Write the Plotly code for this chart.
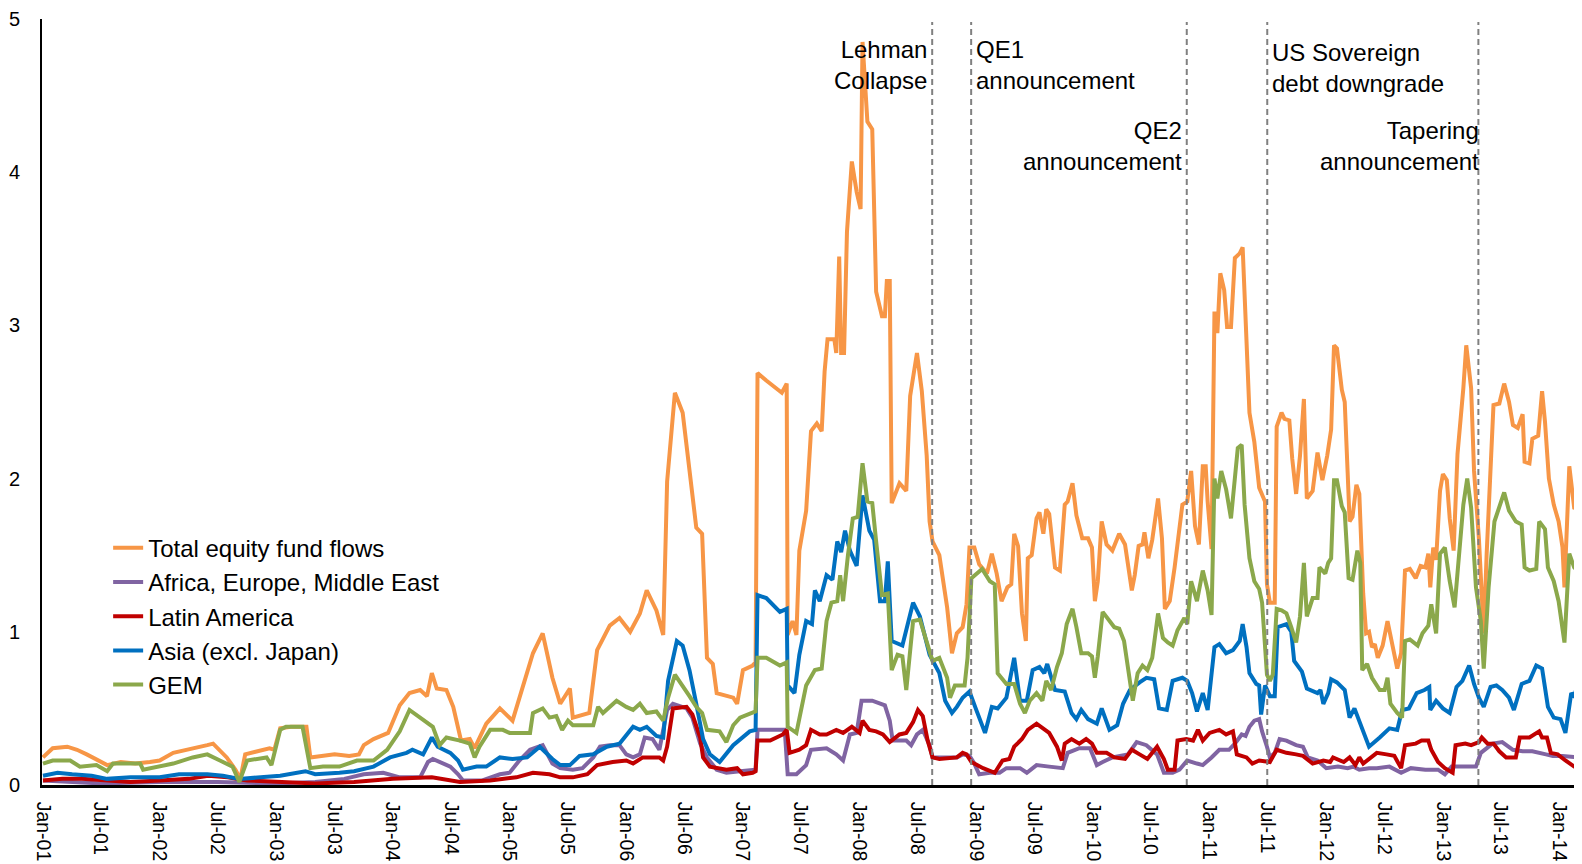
import pandas as pd
import plotly.graph_objects as go

# x positions are months since Jan 2001
total_m = [0, 1, 2.5, 3.5, 4.5, 5.5, 6.6, 8, 9.5, 11, 12, 13.4, 15, 16.9, 17.5, 18.9, 19.8, 20.3, 20.8, 22, 23.3, 23.8,
           24.4, 25.5, 27.1, 27.5, 28.5, 30, 31.5, 32.5, 33, 34, 35.5, 36.7, 37.7, 38.8, 39.5, 40, 40.5, 41.5, 42.2, 43,
           43.9, 44.4, 45.6, 47, 48.3, 49, 50.4, 51.4, 52.4, 53.2, 54.2, 54.5, 56.2, 57, 58.3, 59.3, 60.4, 61.4, 62.1,
           63.1, 63.8, 64.2, 65, 65.8, 66.7, 67.2, 67.8, 68.3, 68.9, 69.3, 71, 71.4, 72, 73, 73.3, 73.5, 74.4, 76, 76.5,
           76.6, 77.1, 77.5, 77.8, 78.5, 79, 79.6, 80.1, 80.4, 80.7, 81.4, 81.6, 81.9, 82.1, 82.4, 82.7, 83.2, 83.7,
           84.1, 84.3, 84.8, 85.3, 85.7, 86.3, 86.6, 86.8, 87.1, 87.3, 87.8, 88.1, 88.8, 89.2, 89.9, 90.4, 90.9, 91.2,
           91.5, 92.2, 93, 93.5, 94, 94.6, 95, 95.3, 95.8, 96.3, 97.1, 97.6, 98.1, 98.6, 99.2, 99.6, 99.9, 100.3, 100.7,
           101.1, 101.3, 101.7, 102.2, 102.5, 102.9, 103.2, 103.5, 104.1, 104.6, 105.1, 105.4, 105.9, 106.3, 106.9,
           107.5, 107.9, 108.2, 108.5, 108.9, 109.4, 110, 110.7, 111.3, 111.6, 112, 112.3, 112.7, 113.1, 113.3, 113.7,
           114.1, 114.7, 115.1, 115.4, 115.9, 116.4, 116.9, 117.2, 117.7, 118.1, 118.5, 118.9, 119.3, 119.6, 119.8,
           120.2, 120.5, 120.8, 121.1, 121.5, 121.8, 122.2, 122.6, 123.1, 123.4, 123.8, 124.1, 124.6, 125.1, 125.7,
           125.9, 126.2, 126.7, 126.9, 127.4, 127.7, 128.2, 128.5, 128.9, 129.3, 129.7, 130, 130.6, 131.1, 131.6, 132.1,
           132.5, 132.8, 133.1, 133.6, 133.9, 134.2, 134.4, 134.7, 135.1, 135.4, 135.8, 136.1, 136.4, 136.7, 137, 137.3,
           137.8, 138.3, 138.6, 139, 139.3, 139.7, 140.1, 140.6, 141.2, 141.7, 142.2, 142.5, 142.7, 143, 143.3, 143.7,
           144, 144.4, 144.7, 145.1, 145.5, 146.1, 146.4, 146.9, 147.2, 147.7, 148.2, 148.5, 148.9, 149.2, 149.8, 150.3,
           150.8, 151.2, 151.7, 152.2, 152.4, 152.9, 153.2, 153.8, 154.2, 154.5, 154.9, 155.4, 155.9, 156.3, 156.5, 157,
           157.5, 158]
total_v = [0.18, 0.24, 0.25, 0.23, 0.2, 0.17, 0.13, 0.15, 0.14, 0.15, 0.16, 0.21, 0.23, 0.26, 0.27, 0.18, 0.1, 0.04,
           0.2, 0.22, 0.24, 0.23, 0.37, 0.38, 0.38, 0.18, 0.19, 0.2, 0.19, 0.2, 0.26, 0.3, 0.34, 0.52, 0.6, 0.62, 0.58,
           0.73, 0.63, 0.62, 0.51, 0.29, 0.3, 0.24, 0.4, 0.5, 0.42, 0.57, 0.86, 0.99, 0.7, 0.53, 0.63, 0.44, 0.47, 0.88,
           1.04, 1.09, 1.0, 1.12, 1.27, 1.14, 0.98, 1.98, 2.56, 2.43, 1.96, 1.68, 1.64, 0.83, 0.79, 0.6, 0.57, 0.53,
           0.75, 0.78, 0.8, 2.69, 2.64, 2.56, 2.62, 0.98, 1.07, 0.98, 1.53, 1.79, 2.31, 2.36, 2.31, 2.7, 2.91, 2.91,
           2.82, 3.45, 2.82, 2.82, 3.61, 4.07, 3.87, 3.76, 4.85, 4.33, 4.28, 3.22, 3.06, 3.06, 3.29, 3.29, 1.84, 1.92,
           1.97, 1.92, 2.54, 2.82, 2.57, 2.15, 1.72, 1.59, 1.5, 1.16, 0.86, 0.99, 1.03, 1.18, 1.55, 1.55, 1.44, 1.38,
           1.51, 1.38, 1.2, 1.29, 1.31, 1.64, 1.56, 1.12, 0.94, 1.48, 1.5, 1.74, 1.78, 1.64, 1.8, 1.77, 1.42, 1.4, 1.83,
           1.85, 1.97, 1.76, 1.61, 1.61, 1.55, 1.2, 1.33, 1.72, 1.57, 1.53, 1.64, 1.57, 1.42, 1.27, 1.37, 1.56, 1.57,
           1.65, 1.48, 1.6, 1.87, 1.61, 1.15, 1.2, 1.42, 1.68, 1.83, 1.85, 2.05, 1.69, 1.57, 2.08, 2.08, 1.85, 1.54,
           3.09, 2.95, 3.34, 3.23, 2.99, 2.99, 3.44, 3.47, 3.51, 2.97, 2.43, 2.24, 1.94, 1.85, 1.31, 1.19, 1.19, 2.34,
           2.43, 2.39, 2.38, 2.13, 1.9, 2.15, 2.52, 1.87, 1.92, 2.17, 1.99, 2.15, 2.32, 2.87, 2.85, 2.58, 2.5, 2.04,
           1.72, 1.75, 1.96, 1.9, 1.25, 0.99, 1.0, 0.9, 0.92, 0.83, 0.91, 1.07, 0.98, 0.86, 0.76, 0.86, 1.4, 1.41, 1.35,
           1.43, 1.42, 1.51, 1.29, 1.55, 1.47, 1.92, 2.03, 1.99, 1.74, 1.53, 2.16, 2.59, 2.87, 2.59, 2.05, 1.61, 0.99,
           1.51, 2.13, 2.48, 2.49, 2.62, 2.5, 2.35, 2.33, 2.42, 2.11, 2.1, 2.26, 2.28, 2.57, 2.37, 2.0, 1.83, 1.72, 1.55,
           1.29, 2.08, 1.81, 1.8]

aeme_m = [0, 3, 6, 12, 18, 24, 28, 31, 33, 35, 36.7, 38.8, 39.6, 40.1, 41.9, 42.7, 43.2, 45.2, 47, 48, 49, 50.1, 51.4,
          52.4, 53.2, 54.5, 55.5, 56.6, 57.3, 58.3, 59.3, 60, 60.7, 61.4, 61.9, 62.7, 63.4, 64.2, 64.8, 66.2, 66.8,
          67.6, 68.3, 69.3, 70.3, 71.7, 73.3, 73.5, 75.1, 76.3, 76.6, 77.5, 78.5, 79, 80.6, 81.6, 82.3, 83, 83.7, 84.2,
          85.3, 86, 86.6, 87.1, 87.4, 88.8, 89.3, 89.9, 90.5, 91.2, 91.5, 92.6, 94, 94.6, 95.3, 95.8, 96.3, 97.4, 98.4,
          99.1, 100.5, 101.2, 102.2, 103.5, 104.9, 105.4, 106.6, 107.7, 108.4, 109, 110, 111.6, 112.5, 113.5, 114.6,
          115.3, 116.2, 116.9, 117.7, 118.7, 119.3, 120.2, 121, 122, 122.6, 123.3, 123.7, 124.1, 124.6, 125.1, 125.4,
          125.9, 126.2, 126.7, 127.2, 127.9, 128.9, 129.6, 130.1, 131.1, 132, 133.2, 134.2, 134.8, 135.4, 136.4, 137.2,
          138.5, 139.7, 140.7, 142.2, 143.5, 144.2, 144.9, 146.3, 147.4, 147.9, 149.1, 150.1, 151.2, 152.2, 153.2,
          154.6, 155.3, 156.3, 158]
aeme_v = [0.03, 0.02, 0.01, 0.02, 0.02, 0.01, 0.02, 0.04, 0.07, 0.08, 0.05, 0.05, 0.15, 0.17, 0.12, 0.07, 0.03, 0.03,
          0.07, 0.08, 0.16, 0.23, 0.26, 0.14, 0.11, 0.1, 0.11, 0.18, 0.25, 0.26, 0.26, 0.2, 0.18, 0.2, 0.31, 0.3, 0.23,
          0.49, 0.53, 0.5, 0.44, 0.27, 0.18, 0.1, 0.08, 0.09, 0.1, 0.36, 0.36, 0.36, 0.07, 0.07, 0.13, 0.23, 0.24, 0.2,
          0.16, 0.33, 0.34, 0.55, 0.55, 0.53, 0.52, 0.42, 0.29, 0.29, 0.26, 0.33, 0.36, 0.26, 0.18, 0.18, 0.18, 0.2,
          0.19, 0.14, 0.07, 0.08, 0.08, 0.11, 0.11, 0.08, 0.13, 0.12, 0.11, 0.21, 0.24, 0.24, 0.13, 0.15, 0.18, 0.2,
          0.28, 0.26, 0.2, 0.08, 0.08, 0.1, 0.16, 0.14, 0.13, 0.18, 0.23, 0.23, 0.27, 0.33, 0.32, 0.38, 0.42, 0.43,
          0.35, 0.25, 0.18, 0.21, 0.3, 0.29, 0.26, 0.25, 0.18, 0.16, 0.11, 0.12, 0.11, 0.12, 0.1, 0.11, 0.11, 0.12,
          0.08, 0.11, 0.1, 0.1, 0.07, 0.12, 0.12, 0.12, 0.21, 0.27, 0.28, 0.23, 0.22, 0.22, 0.2, 0.19, 0.19, 0.18]

latam_m = [0, 2, 4, 6, 9, 12, 15, 17, 19, 21, 24, 28, 32, 36, 40, 42.9, 46, 48.7, 50.4, 52.1, 53.2, 54.5, 56, 57, 58.6,
           60, 60.7, 61.7, 63.4, 63.8, 64.2, 64.8, 66.2, 66.8, 67.6, 67.9, 68.6, 70.3, 71.4, 72, 73, 73.3, 73.5, 74.8,
           76.1, 76.5, 76.8, 77.8, 78.5, 79, 79.9, 80.6, 81.6, 82.3, 83.2, 84, 84.3, 85, 85.7, 86.4, 87.1, 88.1, 88.8,
           89.5, 90, 90.5, 91, 91.5, 92.2, 94, 94.6, 95, 95.5, 96.7, 97.9, 98.7, 99.4, 99.9, 100.7, 101.3, 102.2, 102.8,
           103.5, 104.3, 104.8, 105.1, 105.8, 106.6, 107.3, 107.9, 108.4, 109.4, 110.2, 111.3, 112, 112.8, 113.6, 114.6,
           115.3, 115.7, 116.4, 116.7, 117.6, 118.3, 118.8, 119.3, 120, 121, 121.7, 122.4, 122.8, 123.8, 124.4, 125.1,
           126.2, 126.9, 127.9, 128.9, 129.6, 130.6, 131.7, 132.4, 132.7, 133.8, 134.4, 135, 135.4, 135.8, 136.4, 137.2,
           138.2, 139, 139.7, 140.1, 141.2, 141.8, 142.5, 142.8, 143.5, 144.2, 145, 145.3, 146.3, 146.9, 147.7, 148,
           148.6, 149.2, 149.8, 150.5, 151.5, 151.9, 152.9, 153.9, 154.2, 154.7, 155.1, 155.8, 156.6, 157.5, 158]
latam_v = [0.03, 0.04, 0.04, 0.03, 0.02, 0.03, 0.04, 0.06, 0.05, 0.03, 0.02, 0.01, 0.02, 0.04, 0.05, 0.02, 0.03, 0.05,
           0.08, 0.07, 0.05, 0.05, 0.07, 0.13, 0.15, 0.16, 0.14, 0.18, 0.18, 0.16, 0.25, 0.5, 0.51, 0.46, 0.31, 0.18,
           0.12, 0.1, 0.11, 0.07, 0.08, 0.09, 0.29, 0.29, 0.33, 0.36, 0.21, 0.23, 0.26, 0.36, 0.33, 0.33, 0.36, 0.34,
           0.38, 0.34, 0.42, 0.36, 0.35, 0.33, 0.28, 0.33, 0.34, 0.41, 0.49, 0.45, 0.29, 0.18, 0.17, 0.18, 0.21, 0.2,
           0.15, 0.11, 0.08, 0.16, 0.17, 0.25, 0.3, 0.36, 0.4, 0.37, 0.34, 0.25, 0.16, 0.27, 0.3, 0.27, 0.3, 0.27, 0.21,
           0.21, 0.18, 0.17, 0.23, 0.2, 0.17, 0.25, 0.17, 0.1, 0.1, 0.29, 0.3, 0.29, 0.36, 0.29, 0.34, 0.36, 0.33, 0.35,
           0.2, 0.18, 0.14, 0.16, 0.15, 0.23, 0.21, 0.2, 0.19, 0.14, 0.16, 0.15, 0.18, 0.15, 0.18, 0.13, 0.18, 0.14,
           0.17, 0.21, 0.2, 0.19, 0.11, 0.26, 0.27, 0.29, 0.29, 0.23, 0.15, 0.11, 0.08, 0.26, 0.27, 0.26, 0.28, 0.31,
           0.27, 0.27, 0.22, 0.18, 0.18, 0.31, 0.31, 0.35, 0.31, 0.31, 0.21, 0.2, 0.16, 0.12, 0.12]

asia_m = [0, 1.5, 3, 5, 6.6, 9, 12, 14, 16.9, 18.5, 20.2, 22, 24.4, 27, 28, 30.5, 32, 34, 35.7, 37.4, 38, 39.1, 40,
          40.6, 41.9, 42.7, 43.2, 44.6, 45.6, 47, 48.3, 49.8, 51.1, 52.4, 53.2, 54.2, 55.2, 56.6, 58, 59.3, 60.7, 61.4,
          62.1, 63.1, 63.8, 64.3, 65.2, 65.8, 66.5, 67.2, 67.9, 68.6, 69.6, 71, 72.7, 73.3, 73.5, 74.4, 75.8, 76.5,
          76.6, 77.3, 77.8, 78.5, 79.1, 79.4, 79.9, 80.6, 81.2, 81.7, 82.1, 82.5, 83, 83.7, 84.3, 85, 85.5, 86.1, 86.6,
          86.9, 87.3, 88.4, 89.5, 90.2, 91.2, 92.2, 92.8, 93.5, 94, 94.6, 95.3, 96, 96.9, 97.6, 98.2, 99.1, 99.9, 100.5,
          101.2, 101.8, 102.5, 103, 103.3, 104.1, 105.1, 105.8, 106.3, 106.8, 107.5, 108.4, 108.9, 109.7, 110.5, 111.1,
          111.8, 112.8, 113.5, 114.3, 114.8, 115.6, 116.2, 117.2, 117.7, 118.2, 118.7, 119.3, 119.8, 120.5, 121, 121.7,
          122.4, 123.1, 123.4, 123.8, 124.1, 124.8, 125.1, 125.3, 125.7, 126.2, 126.7, 127, 127.9, 128.4, 128.7, 129.5,
          130, 131.1, 131.4, 131.7, 132.2, 132.5, 133.1, 133.9, 134.4, 134.9, 135.6, 136.4, 137.5, 138.5, 139.3, 139.8,
          140.5, 141.3, 142.1, 142.6, 142.7, 143.3, 144, 144.7, 145.4, 146, 146.7, 147.2, 147.7, 148.2, 148.9, 149.5,
          150.1, 150.8, 151.3, 152.1, 152.9, 153.6, 154.2, 154.8, 155.4, 156.1, 156.6, 157.2, 157.5, 158]
asia_v = [0.06, 0.08, 0.07, 0.06, 0.04, 0.05, 0.05, 0.07, 0.07, 0.06, 0.04, 0.05, 0.06, 0.09, 0.07, 0.08, 0.09, 0.12,
          0.18, 0.21, 0.23, 0.2, 0.31, 0.25, 0.21, 0.16, 0.1, 0.12, 0.12, 0.18, 0.17, 0.18, 0.25, 0.17, 0.13, 0.13,
          0.19, 0.2, 0.25, 0.27, 0.38, 0.36, 0.38, 0.32, 0.31, 0.68, 0.94, 0.91, 0.75, 0.53, 0.3, 0.2, 0.15, 0.26, 0.35,
          0.36, 1.24, 1.22, 1.13, 1.15, 0.65, 0.6, 0.85, 1.07, 1.05, 1.27, 1.2, 1.37, 1.34, 1.59, 1.52, 1.66, 1.53,
          1.43, 1.89, 1.66, 1.6, 1.2, 1.2, 1.46, 0.94, 0.91, 1.19, 1.1, 0.85, 0.73, 0.55, 0.47, 0.51, 0.57, 0.61, 0.49,
          0.34, 0.51, 0.5, 0.57, 0.83, 0.55, 0.55, 0.75, 0.77, 0.73, 0.79, 0.62, 0.61, 0.47, 0.43, 0.49, 0.43, 0.4, 0.5,
          0.36, 0.39, 0.53, 0.62, 0.67, 0.7, 0.69, 0.5, 0.49, 0.68, 0.7, 0.68, 0.6, 0.48, 0.6, 0.49, 0.9, 0.92, 0.86,
          0.88, 0.94, 1.05, 0.9, 0.73, 0.66, 0.65, 0.46, 0.65, 0.58, 0.58, 1.03, 1.05, 1.0, 0.81, 0.74, 0.63, 0.6, 0.62,
          0.53, 0.6, 0.69, 0.67, 0.62, 0.44, 0.5, 0.38, 0.25, 0.31, 0.37, 0.36, 0.49, 0.5, 0.6, 0.62, 0.64, 0.49, 0.55,
          0.5, 0.47, 0.64, 0.68, 0.78, 0.66, 0.57, 0.51, 0.64, 0.65, 0.62, 0.57, 0.49, 0.66, 0.68, 0.78, 0.76, 0.51,
          0.44, 0.43, 0.34, 0.6, 0.58, 0.68]

gem_m = [0, 1, 2.8, 3.8, 5.5, 6.6, 7.2, 10, 10.3, 12, 13.4, 15.4, 16.9, 18.2, 19.5, 20.2, 21, 23, 23.5, 24.4, 25, 26.7,
         27.5, 28.8, 30.5, 32.3, 34, 35.4, 36.7, 37.7, 38.8, 40.1, 40.8, 41.5, 42.9, 43.9, 44.4, 44.9, 46, 47.3, 48,
         50.1, 50.4, 51.4, 52.1, 52.8, 53.4, 54, 54.5, 55.9, 56.6, 57.1, 57.6, 59, 60, 60.7, 61.4, 62.1, 63.1, 63.8,
         64.3, 65, 65.8, 66.5, 67.2, 67.8, 68.3, 69.6, 70.3, 71, 71.7, 73, 73.3, 73.5, 74.4, 75.8, 76.5, 76.6, 77.5,
         78.5, 79.4, 80.1, 80.6, 81.1, 81.7, 82, 82.3, 82.8, 83.3, 83.8, 84.3, 84.8, 85.3, 85.7, 86.3, 86.9, 87.3,
         87.9, 88.4, 88.8, 89.5, 90.2, 90.9, 91.5, 92.2, 93, 93.3, 93.8, 94.8, 95.1, 95.5, 96.6, 97.4, 97.9, 98.2,
         99.1, 99.9, 100.5, 101, 101.5, 102.2, 102.8, 103.2, 103.7, 104.3, 104.8, 105.3, 105.9, 106.3, 106.8, 107.5,
         107.9, 108.2, 108.5, 109, 109.7, 110.2, 110.7, 111.2, 111.8, 112.1, 112.6, 113.1, 113.6, 114.1, 114.7, 115.2,
         115.7, 116.2, 116.7, 117.4, 117.7, 118.1, 118.7, 119.3, 119.8, 120.2, 120.5, 120.8, 121.2, 121.7, 122.2,
         122.9, 123.3, 123.6, 124.1, 124.6, 125.1, 125.4, 125.9, 126.2, 126.5, 126.9, 127.4, 127.9, 128.4, 128.9,
         129.3, 129.7, 130, 130.6, 131.1, 131.3, 131.9, 132.2, 132.5, 132.8, 133.1, 133.6, 133.9, 134.3, 134.7, 135.2,
         135.5, 135.7, 136.2, 136.7, 137.5, 138, 138.3, 138.6, 139.3, 139.8, 140.1, 140.6, 141.4, 141.9, 142.5, 142.8,
         143.3, 143.7, 144.2, 144.7, 145.2, 145.6, 146.1, 146.5, 146.9, 147.4, 147.9, 148.2, 148.7, 149.3, 149.8,
         150.3, 150.8, 151.5, 152.1, 152.4, 152.9, 153.6, 153.9, 154.5, 154.8, 155.4, 155.9, 156.5, 157, 157.5, 158]
gem_v = [0.14, 0.16, 0.16, 0.12, 0.13, 0.09, 0.14, 0.14, 0.1, 0.12, 0.14, 0.18, 0.2, 0.16, 0.12, 0.02, 0.16, 0.18, 0.13,
         0.36, 0.38, 0.38, 0.11, 0.12, 0.12, 0.16, 0.16, 0.23, 0.35, 0.49, 0.44, 0.38, 0.26, 0.31, 0.29, 0.27, 0.18,
         0.25, 0.36, 0.36, 0.34, 0.34, 0.47, 0.5, 0.44, 0.45, 0.36, 0.42, 0.39, 0.39, 0.39, 0.51, 0.47, 0.55, 0.51,
         0.49, 0.53, 0.47, 0.48, 0.42, 0.57, 0.72, 0.65, 0.58, 0.51, 0.47, 0.36, 0.35, 0.28, 0.39, 0.44, 0.47, 0.48,
         0.83, 0.83, 0.78, 0.8, 0.38, 0.34, 0.65, 0.75, 0.76, 1.07, 1.19, 1.2, 1.37, 1.2, 1.5, 1.74, 1.75, 2.1, 1.85,
         1.84, 1.59, 1.24, 1.25, 0.75, 0.85, 0.84, 0.62, 1.07, 1.08, 0.94, 0.81, 0.83, 0.7, 0.57, 0.65, 0.65, 0.83,
         1.35, 1.41, 1.33, 1.31, 0.73, 0.66, 0.66, 0.53, 0.47, 0.55, 0.6, 0.55, 0.68, 0.62, 0.77, 0.86, 1.05, 1.15,
         1.03, 0.86, 0.86, 0.84, 0.7, 0.84, 1.13, 1.07, 1.03, 1.02, 0.94, 0.68, 0.55, 0.73, 0.78, 0.75, 0.83, 1.12,
         0.96, 0.93, 0.91, 1.01, 1.09, 1.05, 1.33, 1.2, 1.4, 1.27, 1.11, 2.0, 1.87, 2.05, 1.93, 1.74, 2.2, 2.22, 1.83,
         1.48, 1.33, 1.28, 1.19, 0.72, 0.68, 0.72, 1.15, 1.14, 1.12, 1.03, 0.93, 1.1, 1.45, 1.1, 1.22, 1.22, 1.42,
         1.38, 1.45, 1.48, 1.99, 1.99, 1.82, 1.78, 1.35, 1.34, 1.53, 1.45, 0.75, 0.79, 0.7, 0.62, 0.62, 0.7, 0.53,
         0.47, 0.44, 0.94, 0.95, 0.91, 0.99, 1.04, 1.18, 0.99, 1.51, 1.55, 1.33, 1.16, 1.46, 1.83, 2.0, 1.81, 1.29,
         1.07, 0.76, 1.29, 1.72, 1.81, 1.91, 1.79, 1.72, 1.7, 1.42, 1.4, 1.41, 1.72, 1.67, 1.42, 1.33, 1.2, 0.93, 1.51,
         1.42, 1.39]

series_names = ["Total equity fund flows", "Africa, Europe, Middle East", "Latin America",
                "Asia (excl. Japan)", "GEM"]
series_colors = ["#F79646", "#8064A2", "#C00000", "#0070C0", "#8BA84B"]

event_dates = ["2008-08-16", "2008-12-16", "2010-10-22", "2011-07-01", "2013-04-22"]
event_labels = ["Lehman<br>Collapse", "QE1<br>announcement", "QE2<br>announcement",
                "US Sovereign<br>debt downgrade", "Tapering<br>announcement"]
event_side = ["left", "right", "left", "right", "left"]
event_shift = [-3, 3, -3, 3, 3]
event_y = [4.70, 4.70, 4.17, 4.68, 4.17]

base = pd.Timestamp("2001-01-01")


def to_dates(months):
    return [base + pd.Timedelta(days=m * 30.4375) for m in months]


fig = go.Figure()
data = [(total_m, total_v), (aeme_m, aeme_v), (latam_m, latam_v), (asia_m, asia_v), (gem_m, gem_v)]
for (m, v), name, color in zip(data, series_names, series_colors):
    fig.add_trace(go.Scatter(x=to_dates(m), y=v, mode="lines", name=name,
                             line=dict(color=color, width=4)))

for d, label, side, shift, yv in zip(event_dates, event_labels, event_side, event_shift, event_y):
    fig.add_shape(type="line", x0=d, x1=d, y0=0, y1=4.98, xref="x", yref="y",
                  line=dict(color="#808080", width=2, dash="6px,4px"))
    fig.add_annotation(x=d, y=yv, text=label, showarrow=False,
                       xanchor="right" if side == "left" else "left",
                       align="right" if side == "left" else "left",
                       xshift=shift, font=dict(size=24, color="#000000"))

# the page body adds an 8px margin, so the figure is sized 8px smaller
x_range = to_dates([-0.1, 158.1])
fig.update_layout(
    width=1574, height=856,
    paper_bgcolor="white", plot_bgcolor="white",
    font=dict(family="Arial, Liberation Sans, sans-serif", color="#000000"),
    margin=dict(l=34, r=2, t=11, b=79),
    showlegend=True,
    legend=dict(x=0.043, y=0.3385, xanchor="left", yanchor="top",
                font=dict(size=24), bgcolor="rgba(0,0,0,0)",
                tracegroupgap=0),
    xaxis=dict(type="date", range=x_range, showgrid=False, zeroline=False,
               showline=True, linecolor="#000000", linewidth=2.5,
               tick0="2001-01-01", dtick="M6", tickformat="%b-%y",
               tickangle=90, ticks="", tickfont=dict(size=19.5),
               ticklabelstandoff=10, automargin=False, ticklabeloverflow="allow"),
    yaxis=dict(range=[0, 5], showgrid=False, zeroline=False,
               showline=True, linecolor="#000000", linewidth=2,
               tickvals=[0, 1, 2, 3, 4, 5], ticks="", tickfont=dict(size=20),
               ticklabelstandoff=16, automargin=False, ticklabeloverflow="allow"),
)

fig.write_html("out.html")
